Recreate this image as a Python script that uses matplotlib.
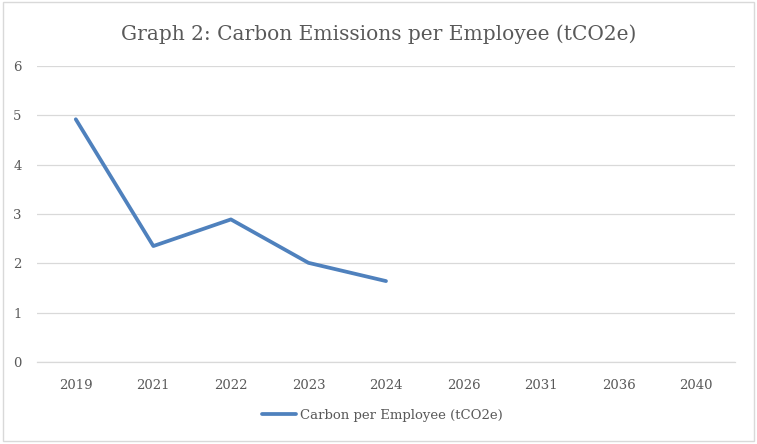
import matplotlib.pyplot as plt
import numpy as np
from matplotlib.patches import Rectangle

# значения с графика
years = ['2019', '2021', '2022', '2023', '2024', '2026', '2031', '2036', '2040']
carbon = [4.92, 2.35, 2.89, 2.01, 1.64, np.nan, np.nan, np.nan, np.nan]
y_ticks = [0, 1, 2, 3, 4, 5, 6]

serif = 'DejaVu Serif'
grey_text = '#595959'
grid_col = '#D9D9D9'
line_col = '#4F81BD'

fig = plt.figure(figsize=(7.57, 4.44), dpi=100)
ax = fig.add_axes([0.0489, 0.1847, 0.922, 0.6667])

x = np.arange(len(years))
ax.plot(x, carbon, color=line_col, linewidth=2.7, solid_capstyle='round',
        label='Carbon per Employee (tCO2e)')

ax.set_xlim(-0.5, len(years) - 0.5)
ax.set_ylim(0, 6)
ax.set_yticks(y_ticks)
ax.set_xticks(x)
ax.set_xticklabels(years)
ax.yaxis.grid(True, color=grid_col, linewidth=0.9)
ax.set_axisbelow(True)
for s in ['top', 'right', 'left']:
    ax.spines[s].set_visible(False)
ax.spines['bottom'].set_color(grid_col)
ax.spines['bottom'].set_linewidth(0.9)
ax.tick_params(length=0, labelsize=9.5, colors=grey_text, pad=12)
ax.tick_params(axis='y', pad=11)
for lab in ax.get_xticklabels() + ax.get_yticklabels():
    lab.set_family(serif)

fig.text(0.5, 0.922, 'Graph 2: Carbon Emissions per Employee (tCO2e)',
         ha='center', va='center', fontsize=14.5, color=grey_text, family=serif)

leg = fig.legend(loc='center', bbox_to_anchor=(0.505, 0.065), frameon=False,
                 prop={'family': serif, 'size': 9.5}, handlelength=2.6,
                 handletextpad=0.3)
for t in leg.get_texts():
    t.set_color(grey_text)

fig.patches.append(Rectangle((0.004, 0.006), 0.992, 0.99, transform=fig.transFigure,
                             fill=False, edgecolor=grid_col, linewidth=1))

plt.savefig('out.png', dpi=100)
